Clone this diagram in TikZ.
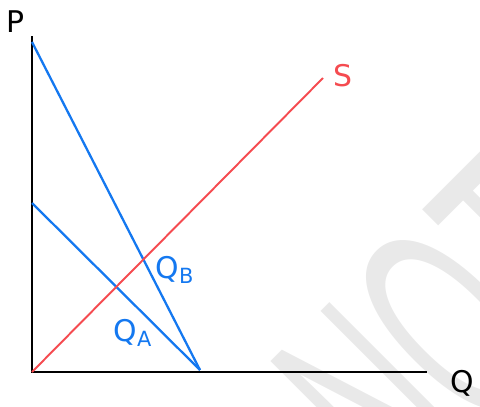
\documentclass[tikz,border=0pt]{standalone}
\usepackage{fontspec}
\setmainfont{DejaVu Sans}
\newfontfamily\markfont[FakeStretch=0.5]{Liberation Sans}
\usepackage{xcolor}
\definecolor{pblue}{RGB}{20,120,240}
\definecolor{pred}{RGB}{245,75,80}
\definecolor{pgray}{RGB}{233,233,233}
\usetikzlibrary{positioning}

\begin{document}
\begin{tikzpicture}[x=0.02cm, y=-0.02cm,
    axisline/.style={line width=1.6pt, black},
    demand/.style={line width=1.3pt, pblue},
    supply/.style={line width=1.1pt, pred},
    lbl/.style={font=\fontsize{17}{17}\selectfont, inner sep=1pt}]
      \useasboundingbox (0,0) rectangle (480,406);
      % Watermark in the background
      \begin{scope}
        \clip (0,0) rectangle (480,406);
        \node[pgray, rotate=45, anchor=base west, inner sep=0pt,
              font=\markfont\fontsize{170}{170}\selectfont]
              (mark) at (407,516) {NOT};
      \end{scope}
      % Corner points of the axes
      \coordinate (orig) at (32,372);
      \coordinate (ptop) at (32,36);
      \coordinate (qend) at (427,372);
      % Axes
      \draw[axisline] (ptop) -- (orig) -- (qend);
      \node[lbl] (plab) at (16,22) {P};
      \node[lbl] (qlab) at (462,383) {Q};
      % Demand lines
      \coordinate (db) at (32,42);
      \coordinate (da) at (32,203);
      \coordinate (dq) at (200,370);
      \draw[demand] (db) -- (dq);
      \draw[demand] (da) -- (dq);
      \node[lbl, pblue] (qb) at (175,270) {Q\textsubscript{B}};
      \node[lbl, pblue] (qa) at (133,333) {Q\textsubscript{A}};
      % Supply line
      \coordinate (sup) at (323,78);
      \draw[supply] (orig) -- (sup);
      \node[lbl, pred] (slab) at (343,76) {S};
    \end{tikzpicture}
\end{document}
